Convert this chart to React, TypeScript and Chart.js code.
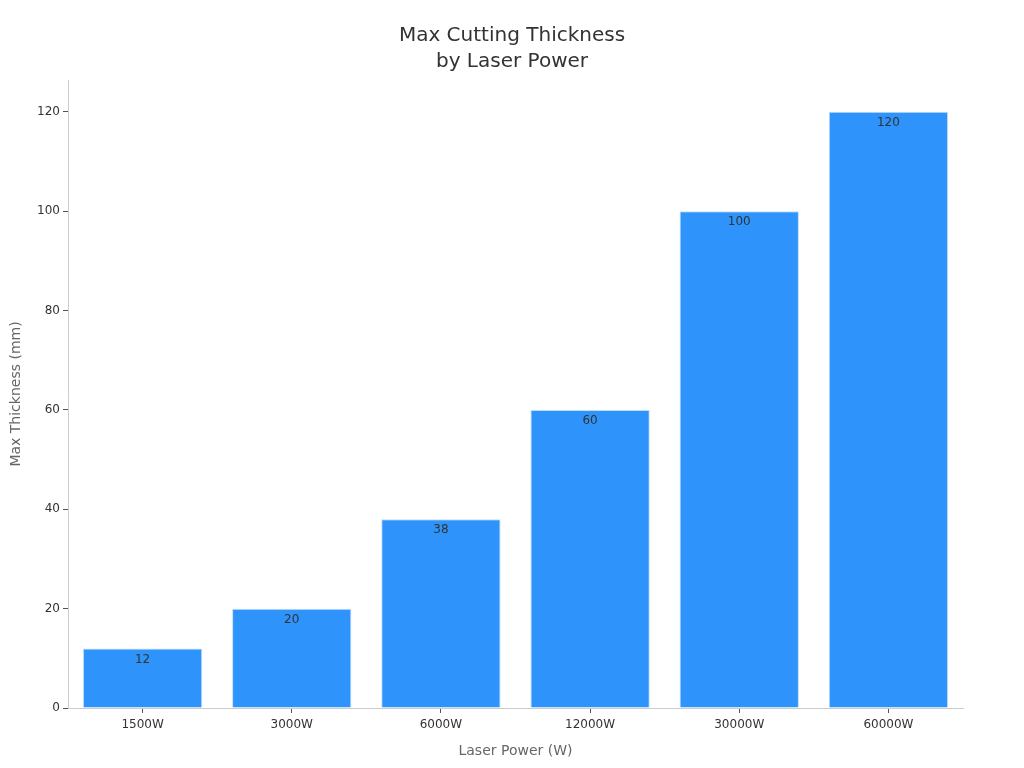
import React, { useEffect, useRef } from "react";
import { Chart, registerables } from "chart.js";

Chart.register(...registerables);

const categories = ["1500W", "3000W", "6000W", "12000W", "30000W", "60000W"];
const thickness = [12, 20, 38, 60, 100, 120];
const chartTitle = ["Max Cutting Thickness", "by Laser Power"];
const xTitle = "Laser Power (W)";
const yTitle = "Max Thickness (mm)";
const yTickValues = [0, 20, 40, 60, 80, 100, 120];

const FONT = "'DejaVu Sans', sans-serif";

const valueLabels = {
  id: "valueLabels",
  afterDatasetsDraw(chart: any) {
    const ctx = chart.ctx;
    const meta = chart.getDatasetMeta(0);
    ctx.save();
    ctx.font = `12px ${FONT}`;
    ctx.fillStyle = "#333333";
    ctx.textAlign = "center";
    ctx.textBaseline = "middle";
    meta.data.forEach((bar: any, i: number) => {
      ctx.fillText(String(chart.data.datasets[0].data[i]), bar.x, bar.y + 11);
    });
    ctx.restore();
  },
};

const centeredTitle = {
  id: "centeredTitle",
  afterDraw(chart: any) {
    const ctx = chart.ctx;
    ctx.save();
    ctx.font = `20px ${FONT}`;
    ctx.fillStyle = "#333333";
    ctx.textAlign = "center";
    ctx.textBaseline = "middle";
    chartTitle.forEach((line, i) => {
      ctx.fillText(line, chart.width / 2, 28 + i * 26);
    });
    ctx.restore();
  },
};

export default function App() {
  const ref = useRef<HTMLCanvasElement>(null);
  useEffect(() => {
    if (!ref.current) return;
    const chart = new Chart(ref.current, {
      type: "bar",
      data: {
        labels: categories,
        datasets: [
          {
            data: thickness,
            backgroundColor: "#2E93FA",
            borderColor: "#BFDDFB",
            borderWidth: 1,
            categoryPercentage: 0.8,
            barPercentage: 1,
          },
        ],
      },
      options: {
        animation: false,
        responsive: false,
        maintainAspectRatio: false,
        layout: { padding: { left: 0, right: 53, top: 72, bottom: 0 } },
        plugins: {
          legend: { display: false },
          tooltip: { enabled: false },
          title: { display: false },
        },
        scales: {
          x: {
            grid: {
              display: true,
              offset: false,
              drawOnChartArea: false,
              drawTicks: true,
              tickLength: 5,
              tickColor: "#555555",
            },
            border: { display: true, color: "#cccccc" },
            ticks: {
              color: "#333333",
              font: { family: FONT, size: 12 },
              padding: 5,
              maxRotation: 0,
            },
            title: {
              display: true,
              text: xTitle,
              color: "#666666",
              font: { family: FONT, size: 14 },
              padding: { top: 0, bottom: 0 },
            },
            afterFit(scale: any) {
              scale.height = 52;
            },
          },
          y: {
            min: 0,
            max: 126.4,
            grid: {
              display: true,
              drawOnChartArea: false,
              drawTicks: true,
              tickLength: 5,
              tickColor: "#555555",
            },
            border: { display: true, color: "#cccccc" },
            ticks: {
              color: "#333333",
              font: { family: FONT, size: 12 },
              padding: 3,
            },
            afterBuildTicks(scale: any) {
              scale.ticks = yTickValues.map((v) => ({ value: v }));
            },
            title: {
              display: true,
              text: yTitle,
              color: "#666666",
              font: { family: FONT, size: 14 },
              padding: { top: 0, bottom: 0 },
            },
            afterFit(scale: any) {
              scale.width = 60;
            },
          },
        },
      },
      plugins: [valueLabels, centeredTitle],
    });
    return () => chart.destroy();
  }, []);
  return (
    <div style={{ width: 1008, height: 752 }}>
      <canvas ref={ref} width={1008} height={752} style={{ display: "block", width: 1008, height: 752 }} />
    </div>
  );
}
